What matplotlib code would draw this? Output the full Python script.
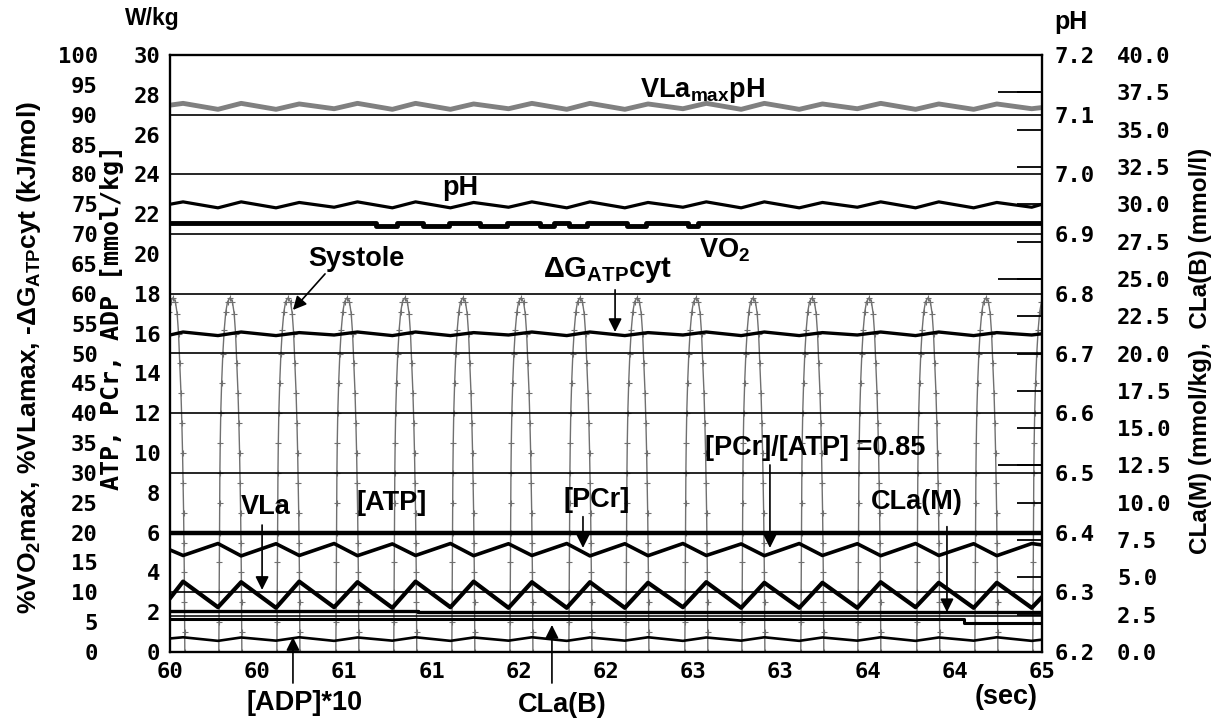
import numpy as np
import matplotlib
matplotlib.use("Agg")
import matplotlib.pyplot as plt

plt.rcParams["font.family"] = "DejaVu Sans Mono"
plt.rcParams["font.weight"] = "bold"
plt.rcParams["mathtext.fontset"] = "custom"
plt.rcParams["mathtext.rm"] = "Liberation Sans:bold"
plt.rcParams["mathtext.it"] = "Liberation Sans:bold"
plt.rcParams["mathtext.bf"] = "Liberation Sans:bold"
plt.rcParams["mathtext.default"] = "regular"
SANS = "Liberation Sans"

# time axis (sec)
x_ticks = [60.0, 60.5, 61.0, 61.5, 62.0, 62.5, 63.0, 63.5, 64.0, 64.5, 65.0]
x_labels = ["60", "60", "61", "61", "62", "62", "63", "63", "64", "64", "65"]

# lactate / PCr oscillation: times of VLa maxima and minima (sec)
peak_t = [60.075, 60.408, 60.741, 61.075, 61.408, 61.741, 62.075, 62.408,
          62.741, 63.075, 63.408, 63.741, 64.075, 64.408, 64.741]
trough_t = [60.275, 60.608, 60.941, 61.275, 61.608, 61.941, 62.275, 62.608,
            62.941, 63.275, 63.608, 63.941, 64.275, 64.608, 64.941]

# %VLamax
vla_hi = [11.8, 11.7, 11.8, 11.7, 11.8, 11.8, 11.7, 11.7, 11.6, 11.7, 11.6, 11.6, 11.7, 11.6, 11.6]
vla_lo = [7.5, 7.4, 7.5, 7.4, 7.5, 7.4, 7.4, 7.4, 7.5, 7.4, 7.4, 7.4, 7.5, 7.4, 7.4]
vla_ends = (9.0, 9.2)

# [PCr] mmol/kg (low at VLa max, high at VLa min)
pcr_lo = [4.85, 4.83, 4.85, 4.84, 4.85, 4.84, 4.85, 4.83, 4.84, 4.85, 4.84, 4.85, 4.84, 4.85, 4.84]
pcr_hi = [5.45, 5.44, 5.45, 5.43, 5.45, 5.44, 5.45, 5.44, 5.45, 5.43, 5.45, 5.44, 5.45, 5.44, 5.45]
pcr_ends = (5.13, 5.38)

# pH
ph_hi = [6.954, 6.954, 6.953, 6.954, 6.954, 6.953, 6.954, 6.954, 6.953, 6.954, 6.954, 6.953, 6.954, 6.954, 6.953]
ph_lo = [6.944, 6.944, 6.945, 6.944, 6.944, 6.945, 6.944, 6.944, 6.945, 6.944, 6.944, 6.945, 6.944, 6.944, 6.945]
ph_ends = (6.950, 6.950)

# VLamax pH (%)
vlamax_hi = [91.9, 91.9, 91.8, 91.9, 91.9, 91.8, 91.9, 91.9, 91.8, 91.9, 91.9, 91.8, 91.9, 91.8, 91.8]
vlamax_lo = [90.9, 90.9, 91.0, 90.9, 90.9, 91.0, 90.9, 90.9, 91.0, 90.9, 90.9, 91.0, 90.9, 90.9, 91.0]
vlamax_ends = (91.6, 91.2)

# -dG ATP cyt (kJ/mol)
dg_hi = [53.6, 53.6, 53.5, 53.6, 53.6, 53.5, 53.6, 53.6, 53.5, 53.6, 53.6, 53.5, 53.6, 53.6, 53.5]
dg_lo = [53.0, 53.0, 53.1, 53.0, 53.0, 53.1, 53.0, 53.0, 53.1, 53.0, 53.0, 53.1, 53.0, 53.0, 53.1]
dg_ends = (53.1, 53.3)

# [ADP]*10 mmol/kg
adp_hi = [0.74, 0.73, 0.74, 0.73, 0.74, 0.73, 0.74, 0.73, 0.74, 0.73, 0.74, 0.73, 0.74, 0.73, 0.74]
adp_lo = [0.56, 0.57, 0.56, 0.57, 0.56, 0.57, 0.56, 0.57, 0.56, 0.57, 0.56, 0.57, 0.56, 0.57, 0.56]
adp_ends = (0.68, 0.62)

# %VO2max (step trace)
vo2_t = [60.0, 61.18, 61.30, 61.45, 61.60, 61.78, 61.93, 62.12, 62.20, 62.29, 62.39,
         62.62, 62.73, 62.97, 63.03, 65.0]
vo2 = [71.8, 71.4, 71.8, 71.4, 71.8, 71.4, 71.8, 71.4, 71.8, 71.4, 71.8,
       71.4, 71.8, 71.4, 71.8, 71.8]

# [ATP] mmol/kg
atp_t = [60.0, 65.0]
atp = [6.0, 6.0]

# lactate concentrations (mmol)
cla_m_t = [60.0, 61.42, 65.0]
cla_m = [2.76, 2.68, 2.68]
cla_ref_t = [60.0, 65.0]
cla_ref = [2.41, 2.41]
cla_b_t = [60.0, 64.55, 65.0]
cla_b = [2.21, 1.94, 1.94]

# systole power (W/kg): beat peak times and one beat's sampled shape
beat_t = [60.017, 60.344, 60.677, 61.015, 61.347, 61.680, 62.013, 62.351,
          62.678, 63.016, 63.343, 63.681, 64.008, 64.346, 64.679, 65.011]
beat_dt = [-0.064, -0.063, -0.062, -0.061, -0.060, -0.059, -0.058, -0.056, -0.053,
           -0.048, -0.041, -0.033, -0.024, -0.014, 0.0,
           0.014, 0.024, 0.032, 0.039, 0.046, 0.051, 0.055, 0.058, 0.061,
           0.063, 0.065, 0.066, 0.067, 0.068]
beat_w = [0.0, 1.5, 3.0, 4.5, 6.0, 7.5, 9.0, 10.5, 12.0,
          13.5, 15.0, 16.2, 17.1, 17.6, 17.8,
          17.6, 17.0, 16.0, 14.5, 13.0, 11.5, 10.0, 8.5, 7.0,
          5.5, 4.0, 2.5, 1.0, 0.0]


def cycle(at_peak, at_trough, ends):
    t = np.concatenate(([60.0], np.column_stack([peak_t, trough_t]).ravel(), [65.0]))
    v = np.concatenate(([ends[0]], np.column_stack([at_peak, at_trough]).ravel(), [ends[1]]))
    return t, v


fig = plt.figure(figsize=(12.16, 7.19), dpi=100)
ax = fig.add_axes([170 / 1216, 1 - 652 / 719, 872 / 1216, 597 / 719])
ax_pct = ax.twinx()
ax_ph = ax.twinx()
ax_cla = ax.twinx()

# W/kg, mmol/kg axis
ax.set_xlim(60, 65)
ax.set_ylim(0, 30)
ax.set_yticks(np.arange(0, 31, 2))
ax.tick_params(axis="y", length=0, pad=7, labelsize=16)
ax.set_xticks(x_ticks)
ax.set_xticklabels(x_labels)
ax.tick_params(axis="x", length=0, pad=7, labelsize=16)
ax.set_xticks([62, 64], minor=True)
ax.tick_params(axis="x", which="minor", length=0)
ax.grid(which="minor", axis="x", color="k", lw=1.2)

# percent axis on the left, labels further out
ax_pct.set_ylim(0, 100)
ax_pct.yaxis.tick_left()
ax_pct.set_yticks(np.arange(0, 101, 5))
ax_pct.set_yticks(np.arange(5, 100, 10), minor=True)
ax_pct.tick_params(axis="y", which="major", length=0, pad=52, labelsize=16)
ax_pct.tick_params(axis="y", which="minor", direction="in", length=18, width=1.3)

# pH axis, horizontal grid every 0.1
ax_ph.set_ylim(6.2, 7.2)
ax_ph.set_yticks(np.round(np.arange(6.2, 7.21, 0.1), 1))
ax_ph.yaxis.set_major_formatter(lambda v, p: f"{v:.1f}")
ax_ph.tick_params(axis="y", length=0, pad=9, labelsize=16)
ax_ph.grid(axis="y", color="k", lw=1.2)

# lactate axis, inward ticks on the right spine
ax_cla.set_ylim(0, 40)
ax_cla.set_yticks(np.arange(0, 40.1, 2.5))
ax_cla.yaxis.set_major_formatter(lambda v, p: f"{v:.1f}")
ax_cla.set_yticks([12.5, 25.0, 37.5], minor=True)
ax_cla.yaxis.remove_overlapping_locs = False
ax_cla.tick_params(axis="y", which="major", direction="in", length=18, width=1.3,
                   pad=54, labelsize=16)
ax_cla.tick_params(axis="y", which="minor", direction="in", length=32, width=1.3)

for a in (ax, ax_pct, ax_ph, ax_cla):
    for s in a.spines.values():
        s.set_linewidth(1.5)

# traces
ax.plot(np.concatenate([b + np.array(beat_dt) for b in beat_t]),
        np.tile(beat_w, len(beat_t)), color="#707070", lw=1.0,
        marker="+", ms=4.5, mew=0.8)

t, v = cycle(vlamax_hi, vlamax_lo, vlamax_ends)
ax_pct.plot(t, v, color="#808080", lw=3.5)
t, v = cycle(ph_hi, ph_lo, ph_ends)
ax_ph.plot(t, v, color="k", lw=2.3)
ax_pct.plot(vo2_t, vo2, color="k", lw=3.5, drawstyle="steps-post")
t, v = cycle(dg_hi, dg_lo, dg_ends)
ax_pct.plot(t, v, color="k", lw=2.4)
ax.plot(atp_t, atp, color="k", lw=3.2)
t, v = cycle(pcr_lo, pcr_hi, pcr_ends)
ax.plot(t, v, color="k", lw=2.6)
t, v = cycle(vla_hi, vla_lo, vla_ends)
ax_pct.plot(t, v, color="k", lw=3.0)
ax_cla.plot(cla_m_t, cla_m, color="k", lw=2.4, drawstyle="steps-post")
ax_cla.plot(cla_ref_t, cla_ref, color="k", lw=1.1)
ax_cla.plot(cla_b_t, cla_b, color="k", lw=2.2, drawstyle="steps-post")
t, v = cycle(adp_hi, adp_lo, adp_ends)
ax.plot(t, v, color="k", lw=1.9)


def label(s, x, y, size=19.5):
    ax.text(x, y, s, family=SANS, fontsize=size, ha="center", va="center",
            clip_on=False)


def arrow(start, tip):
    ax.annotate("", xy=tip, xytext=start, annotation_clip=False,
                arrowprops=dict(arrowstyle="-|>", color="k", lw=1.2,
                                mutation_scale=20, shrinkA=0, shrinkB=0))


label("VLa$_{max}$pH", 63.056, 28.2)
label("pH", 61.663, 23.3)
label("VO$_2$", 63.182, 20.2)
label("Systole", 61.067, 19.75)
arrow((60.889, 19.0), (60.705, 17.19))
label("ΔG$_{ATP}$cyt", 62.51, 19.2, size=21)
arrow((62.552, 18.2), (62.552, 16.08))
label("[PCr]/[ATP] =0.85", 63.698, 10.25)
arrow((63.44, 9.4), (63.44, 5.23))
label("[PCr]", 62.448, 7.64)
arrow((62.368, 6.8), (62.368, 5.23))
label("[ATP]", 61.273, 7.49)
label("VLa", 60.55, 7.29)
arrow((60.528, 6.38), (60.528, 3.12))
label("CLa(M)", 64.283, 7.54)
arrow((64.455, 6.3), (64.455, 2.0))
label("[ADP]*10", 60.774, -2.56)
arrow((60.705, -1.56), (60.705, 0.75))
label("CLa(B)", 62.25, -2.66)
arrow((62.19, -1.56), (62.19, 1.36))
label("(sec)", 64.794, -2.26)

# axis titles
fig.text(152 / 1216, 1 - 19 / 719, "W/kg", family=SANS, fontsize=16.5,
         ha="center", va="center")
fig.text(1071 / 1216, 1 - 22 / 719, "pH", family=SANS, fontsize=18,
         ha="center", va="center")
fig.text(29 / 1216, 1 - 358 / 719, "%VO$_2$max, %VLamax, -ΔG$_{ATP}$cyt (kJ/mol)",
         family=SANS, fontsize=19, rotation=90, ha="center", va="center")
fig.text(112 / 1216, 1 - 318 / 719, "ATP, PCr, ADP [mmol/kg]", fontsize=18,
         rotation=90, ha="center", va="center")
fig.text(1201 / 1216, 1 - 351 / 719, "CLa(M) (mmol/kg),  CLa(B) (mmol/l)",
         family=SANS, fontsize=17.5, rotation=90, ha="center", va="center")

fig.savefig("out.png", dpi=100)
